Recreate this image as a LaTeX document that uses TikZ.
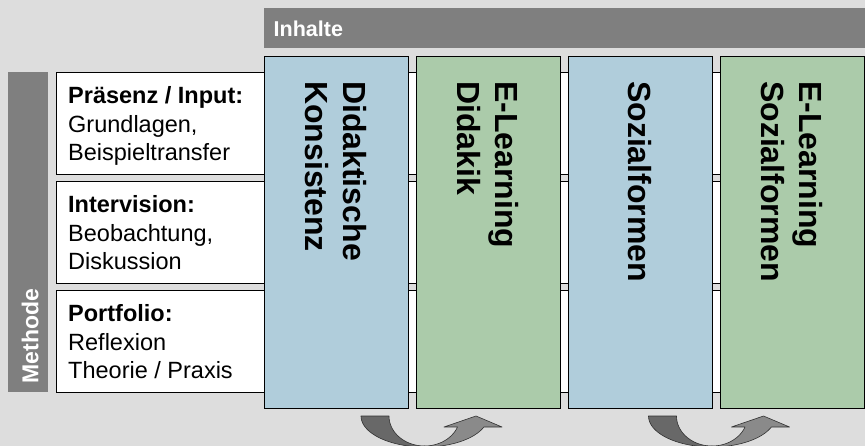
\documentclass[tikz,border=0pt]{standalone}
\usepackage{fontspec}
\setmainfont{Liberation Sans}
\definecolor{bgc}{RGB}{221,221,221}
\definecolor{barg}{RGB}{127,127,127}
\definecolor{colblue}{RGB}{176,205,219}
\definecolor{colgreen}{RGB}{171,203,170}
\definecolor{arrdark}{RGB}{104,104,104}
\definecolor{arrlight}{RGB}{138,138,138}
\definecolor{arredge}{RGB}{50,50,50}
\begin{document}
\begin{tikzpicture}[x=1pt,y=-1pt,
  bar/.style={fill=barg, draw=none, inner sep=0, anchor=north west},
  rowbox/.style={draw=black, fill=white, line width=0.8pt, inner sep=0, anchor=north west, minimum width=808, minimum height=102},
  colbox/.style={draw=black, line width=0.8pt, inner sep=0, anchor=north west, minimum width=144, minimum height=352},
  rowtext/.style={align=left, inner sep=0, anchor=base west, font=\fontsize{23.5}{28.7}\selectfont},
  coltext/.style={align=left, inner sep=0, anchor=west, rotate=-90, font=\bfseries\fontsize{32}{37.7}\selectfont},
  arrshape/.style={draw=arredge, line width=0.6pt, line join=round}
]
\useasboundingbox (0,0) rectangle (865,446);
\fill[bgc] (0,0) rectangle (865,446);

% header bars
\node[bar, minimum width=601, minimum height=40] (inhbar) at (264,8) {};
\node[anchor=base west, inner sep=0, text=white, font=\bfseries\fontsize{21.5}{25}\selectfont] (inh) at (273.5,36.7) {Inhalte};
\node[bar, minimum width=40, minimum height=320] (methbar) at (8,72) {};
\node[anchor=base west, inner sep=0, rotate=90, text=white, font=\bfseries\fontsize{23}{27}\selectfont] (meth) at (38.3,383.5) {Methode};

% rows
\node[rowbox] (r1) at (56,72) {};
\node[rowbox] (r2) at (56,181) {};
\node[rowbox] (r3) at (56,290) {};
\node[rowtext] (t1) at (68,160.9) {\textbf{Präsenz / Input:}\\Grundlagen,\\Beispieltransfer};
\node[rowtext] (t2) at (68,269.9) {\textbf{Intervision:}\\Beobachtung,\\Diskussion};
\node[rowtext] (t3) at (68,378.9) {\textbf{Portfolio:}\\Reflexion\\Theorie / Praxis};

% columns
\node[colbox, fill=colblue] (c1) at (264,56) {};
\node[colbox, fill=colgreen] (c2) at (416,56) {};
\node[colbox, fill=colblue] (c3) at (568,56) {};
\node[colbox, fill=colgreen] (c4) at (720,56) {};
\node[coltext] (c1t) at (336,81) {Didaktische\\Konsistenz};
\node[coltext] (c2t) at (488,81) {E-Learning\\Didakik};
\node[coltext] (c3t) at (640,81) {Sozialformen};
\node[coltext] (c4t) at (792,81) {E-Learning\\Sozialformen};

% curved arrows
\foreach \s in {0,287.5}{
\begin{scope}[xshift=\s]
  \begin{scope}
  \clip (0,0) rectangle (865,446);
  \filldraw[arrshape, fill=arrdark] (361,416) -- (389,416)
    -- plot[domain=180:90, samples=30, variable=\t] ({424.5+35.5*cos(\t)},{416+30*sin(\t)})
    -- plot[domain=90:180, samples=30, variable=\t] ({424.5+63.5*cos(\t)},{416+31*sin(\t)}) -- cycle;
  \filldraw[arrshape, fill=arrlight]
    plot[domain=90:21.5, samples=30, variable=\t] ({424.5+35.5*cos(\t)},{416+30*sin(\t)})
    -- (444,427) -- (476,416) -- (502,427)
    -- plot[domain=20.8:90, samples=30, variable=\t] ({424.5+63.5*cos(\t)},{416+31*sin(\t)}) -- cycle;
  \end{scope}
\end{scope}
}
\end{tikzpicture}
\end{document}
